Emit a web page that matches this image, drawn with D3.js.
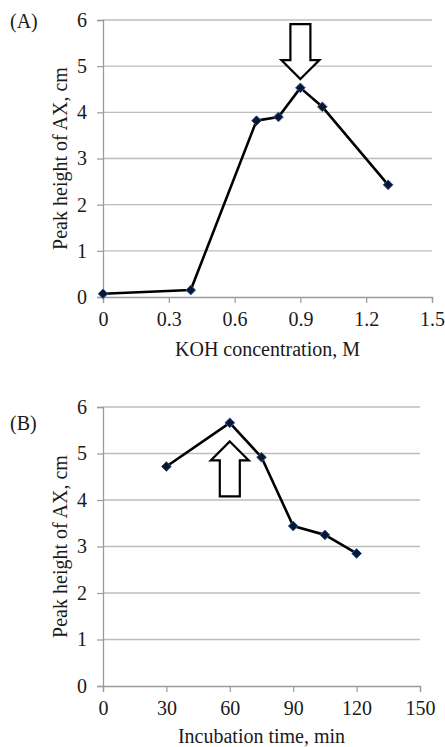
<!DOCTYPE html>
<html>
<head>
<meta charset="utf-8">
<script src="https://cdn.jsdelivr.net/npm/d3@7"></script>
<style>
  html, body { margin: 0; padding: 0; background: #fff; }
  svg { display: block; }
  text { font-family: "Liberation Serif", "Times New Roman", serif; fill: #1a1a1a; }
</style>
</head>
<body>
<svg id="chart" width="445" height="747"></svg>
<script>
// ---------- Data ----------
const panelLabels = ["(A)", "(B)"];
const yTitle = "Peak height of AX, cm";
const xTitles = ["KOH concentration, M", "Incubation time, min"];

const kohConc   = [0, 0.4, 0.7, 0.8, 0.9, 1.0, 1.3];
const kohHeight = [0.07, 0.15, 3.82, 3.90, 4.53, 4.12, 2.43];

const incTime   = [30, 60, 75, 90, 105, 120];
const incHeight = [4.72, 5.66, 4.92, 3.44, 3.25, 2.85];

const xTicksA = [0, 0.3, 0.6, 0.9, 1.2, 1.5];
const xTickLabelsA = ["0", "0.3", "0.6", "0.9", "1.2", "1.5"];
const xTicksB = [0, 30, 60, 90, 120, 150];
const xTickLabelsB = ["0", "30", "60", "90", "120", "150"];
const yTicks = [0, 1, 2, 3, 4, 5, 6];
const yTickLabels = ["0", "1", "2", "3", "4", "5", "6"];

// arrow annotations: tip position in data units, direction
const arrowA = { x: 0.9, y: 4.72, dir: "down" };
const arrowB = { x: 60, y: 5.26, dir: "up" };

// ---------- Drawing ----------
const svg = d3.select("#chart");

function panel(cfg) {
  const x = d3.scaleLinear().domain(cfg.xDomain).range([cfg.left, cfg.right]);
  const y = d3.scaleLinear().domain([0, 6]).range([cfg.bottom, cfg.top]);
  const g = svg.append("g");

  // gridlines
  g.append("g")
    .selectAll("line")
    .data(yTicks.filter(d => d > 0))
    .join("line")
    .attr("x1", cfg.left).attr("x2", cfg.right)
    .attr("y1", d => y(d)).attr("y2", d => y(d))
    .attr("stroke", "#bdbdbd").attr("stroke-width", 1.3);

  // y axis
  const yAxis = g.append("g")
    .attr("transform", `translate(${cfg.left},0)`)
    .call(d3.axisLeft(y).tickValues(yTicks).tickFormat((d, i) => yTickLabels[i]).tickSize(6).tickPadding(10));
  // x axis
  const xAxis = g.append("g")
    .attr("transform", `translate(0,${cfg.bottom})`)
    .call(d3.axisBottom(x).tickValues(cfg.xTicks).tickFormat((d, i) => cfg.xTickLabels[i]).tickSize(6).tickPadding(9));

  [yAxis, xAxis].forEach(a => {
    a.select(".domain").attr("stroke", "#9a9a9a").attr("stroke-width", 1.3);
    a.selectAll(".tick line").attr("stroke", "#9a9a9a").attr("stroke-width", 1.2);
    a.selectAll(".tick text")
      .attr("font-family", "Liberation Serif, Times New Roman, serif")
      .attr("font-size", 20).attr("fill", "#1a1a1a");
  });

  // line
  const pts = cfg.xs.map((v, i) => [v, cfg.ys[i]]);
  g.append("path")
    .datum(pts)
    .attr("fill", "none")
    .attr("stroke", "#000")
    .attr("stroke-width", 2.6)
    .attr("stroke-linejoin", "round")
    .attr("d", d3.line().x(d => x(d[0])).y(d => y(d[1])));

  // markers
  g.append("g")
    .selectAll("path")
    .data(pts)
    .join("path")
    .attr("transform", d => `translate(${x(d[0])},${y(d[1])})`)
    .attr("d", d3.symbol(d3.symbolDiamond2, 60)())
    .attr("fill", "#0a1530")
    .attr("stroke", "#2f5f9e")
    .attr("stroke-width", 1);

  // arrow annotation
  const a = cfg.arrow;
  const tx = x(a.x), ty = y(a.y);
  const s = a.dir === "down" ? -1 : 1; // down arrow: body extends upward (negative y)
  const headW = 19, shaftW = 10, headH = 19, len = 55;
  const arrowPts = [
    [0, 0],
    [headW, -s * 0 + s * headH],
    [shaftW, s * headH],
    [shaftW, s * len],
    [-shaftW, s * len],
    [-shaftW, s * headH],
    [-headW, s * headH]
  ];
  g.append("path")
    .attr("d", "M" + arrowPts.map(p => [tx + p[0], ty + p[1]].join(",")).join("L") + "Z")
    .attr("fill", "#fff")
    .attr("stroke", "#000")
    .attr("stroke-width", 2.2)
    .attr("stroke-linejoin", "miter");

  // titles
  g.append("text")
    .attr("transform", `translate(${cfg.yTitleX},${(cfg.top + cfg.bottom) / 2}) rotate(-90)`)
    .attr("text-anchor", "middle")
    .attr("dy", "0.35em")
    .attr("font-size", 20)
    .text(yTitle);
  g.append("text")
    .attr("x", (cfg.left + cfg.right) / 2)
    .attr("y", cfg.xTitleY)
    .attr("text-anchor", "middle")
    .attr("font-size", 20)
    .text(cfg.xTitle);
  g.append("text")
    .attr("x", 10)
    .attr("y", cfg.labelY)
    .attr("font-size", 20)
    .text(cfg.label);
}

panel({
  xDomain: [0, 1.5], left: 103, right: 432, top: 20, bottom: 297,
  xTicks: xTicksA, xTickLabels: xTickLabelsA,
  xs: kohConc, ys: kohHeight, arrow: arrowA,
  yTitleX: 60, xTitleY: 356, xTitle: xTitles[0],
  label: panelLabels[0], labelY: 28
});

panel({
  xDomain: [0, 150], left: 103, right: 420, top: 407, bottom: 686,
  xTicks: xTicksB, xTickLabels: xTickLabelsB,
  xs: incTime, ys: incHeight, arrow: arrowB,
  yTitleX: 60, xTitleY: 743, xTitle: xTitles[1],
  label: panelLabels[1], labelY: 430
});
</script>
</body>
</html>
